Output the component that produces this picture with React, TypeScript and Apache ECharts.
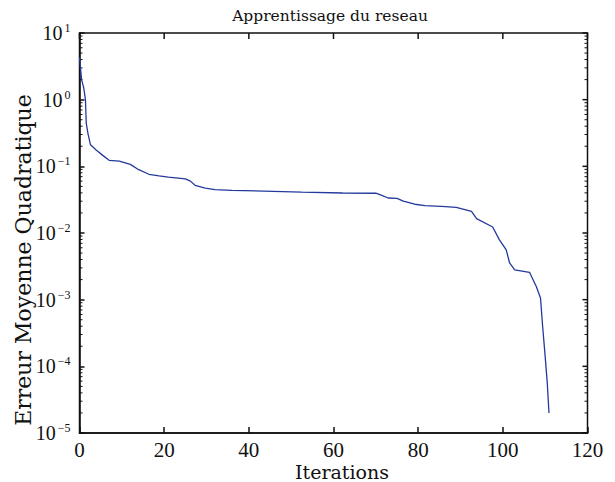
import React, { useEffect, useRef } from "react";
import * as echarts from "echarts";

const titleText = "Apprentissage du reseau";
const xName = "Iterations";
const yName = "Erreur Moyenne Quadratique";

const iterations = [
  0, 0.5, 1, 1.4, 1.6, 2, 2.6, 4, 5.5, 7, 9.4, 12, 14, 16.4, 18.8, 21, 25, 26.2,
  27.3, 29.7, 32, 36, 43.5, 52.5, 62.2, 70, 71.4, 72.9, 75, 76.5, 79.2, 81.6,
  85.5, 89, 92.6, 93.8, 97.6, 99.2, 100.8, 101.6, 102.8, 106.3, 107.9, 108.9,
  109.4, 110, 110.5, 110.9,
];
const mse = [
  4.3, 2.0, 1.5, 1.0, 0.44, 0.31, 0.21, 0.174, 0.146, 0.123, 0.12, 0.107, 0.089,
  0.076, 0.072, 0.069, 0.065, 0.06, 0.052, 0.047, 0.0447, 0.0435, 0.0426,
  0.0411, 0.0398, 0.0395, 0.0366, 0.0335, 0.033, 0.03, 0.027, 0.0257, 0.025,
  0.0243, 0.0211, 0.0164, 0.0123, 0.0079, 0.0056, 0.00355, 0.0028, 0.00257,
  0.00158, 0.00106, 0.0004, 0.000141, 0.000056, 0.00002,
];

const xTicks = [0, 20, 40, 60, 80, 100, 120];
const yDecades = [-5, -4, -3, -2, -1, 0, 1];

const X_MIN = 0;
const X_MAX = 120;
const Y_MIN = 1e-5;
const Y_MAX = 10;

export default function App() {
  const ref = useRef<HTMLDivElement>(null);

  useEffect(() => {
    if (!ref.current) return;
    const chart = echarts.init(ref.current, undefined, { renderer: "svg" });

    const yTickMarks: number[][] = [];
    for (const d of yDecades) {
      yTickMarks.push([X_MIN, Math.pow(10, d), 1]);
      if (d === 1) continue;
      for (let m = 2; m <= 9; m++) yTickMarks.push([X_MIN, m * Math.pow(10, d), 0]);
    }
    const xTopMarks = xTicks.map((v) => [v, Y_MAX]);

    const serif = "Liberation Serif";
    const wide = "DejaVu Serif";
    const ink = "#111";

    const expLabel = (v: number) => {
      const e = Math.round(Math.log10(v));
      const s = e < 0 ? "\u2212" + Math.abs(e) : String(e);
      return "{b|10}{s|" + s + "}";
    };

    chart.setOption({
      animation: false,
      backgroundColor: "#ffffff",
      title: {
        text: titleText,
        left: 325,
        textAlign: "center",
        top: 3,
        textStyle: {
          fontFamily: wide,
          fontSize: 15.5,
          fontWeight: "normal",
          color: ink,
        },
      },
      graphic: [
        {
          type: "text",
          x: 342,
          y: 472,
          style: {
            text: xName,
            fontFamily: wide,
            fontSize: 19,
            fill: ink,
            align: "center",
            verticalAlign: "middle",
          },
        },
        {
          type: "text",
          x: 23,
          y: 260,
          rotation: Math.PI / 2,
          style: {
            text: yName,
            fontFamily: wide,
            fontSize: 22,
            fill: ink,
            align: "center",
            verticalAlign: "middle",
          },
        },
      ],
      grid: {
        left: 79.5,
        right: 27.5,
        top: 33,
        bottom: 49,
        show: true,
        borderColor: ink,
        borderWidth: 1.5,
        backgroundColor: "transparent",
      },
      xAxis: {
        type: "value",
        min: X_MIN,
        max: X_MAX,
        interval: 20,
        position: "bottom",
        axisLine: { show: true, onZero: false, lineStyle: { color: ink, width: 1.5 } },
        axisTick: { show: true, inside: true, length: 6, lineStyle: { color: ink, width: 1.5 } },
        axisLabel: {
          fontFamily: serif,
          fontSize: 21,
          color: ink,
          margin: 6,
        },
        splitLine: { show: false },
      },
      yAxis: {
        type: "log",
        logBase: 10,
        min: Y_MIN,
        max: Y_MAX,
        position: "left",
        axisLine: { show: true, onZero: false, lineStyle: { color: ink, width: 1.5 } },
        axisTick: { show: true, inside: true, length: 5, lineStyle: { color: ink, width: 1.5 } },
        axisLabel: {
          margin: 9,
          formatter: expLabel,
          rich: {
            b: { fontFamily: serif, fontSize: 20, color: ink, lineHeight: 22 },
            s: { fontFamily: serif, fontSize: 12, color: ink, lineHeight: 22, verticalAlign: "top", padding: [0, 0, 10, 2] },
          },
        },
        splitLine: { show: false },
      },
      series: [
        {
          type: "line",
          data: iterations.map((x, i) => [x, mse[i]]),
          showSymbol: false,
          symbol: "none",
          lineStyle: { color: "#233a9c", width: 1.3 },
          silent: true,
        },
        {
          type: "custom",
          silent: true,
          clip: false,
          data: yTickMarks,
          renderItem: (params: any, api: any) => {
            const v = api.value(1);
            const major = api.value(2) === 1;
            const pl = api.coord([X_MIN, v]);
            const pr = api.coord([X_MAX, v]);
            const children: any[] = [
              {
                type: "line",
                shape: { x1: pr[0], y1: pr[1], x2: pr[0] - (major ? 5 : 3), y2: pr[1] },
                style: { stroke: ink, lineWidth: major ? 1.5 : 1 },
              },
            ];
            if (!major) {
              children.push({
                type: "line",
                shape: { x1: pl[0], y1: pl[1], x2: pl[0] + 3, y2: pl[1] },
                style: { stroke: ink, lineWidth: 1 },
              });
            }
            return { type: "group", children };
          },
        },
        {
          type: "custom",
          silent: true,
          clip: false,
          data: xTopMarks,
          renderItem: (params: any, api: any) => {
            const p = api.coord([api.value(0), api.value(1)]);
            return {
              type: "line",
              shape: { x1: p[0], y1: p[1], x2: p[0], y2: p[1] + 6 },
              style: { stroke: ink, lineWidth: 1.5 },
            };
          },
        },
      ],
    });

    return () => chart.dispose();
  }, []);

  return (
    <div
      ref={ref}
      style={{ position: "absolute", left: 0, top: 0, width: 615, height: 482 }}
    />
  );
}
